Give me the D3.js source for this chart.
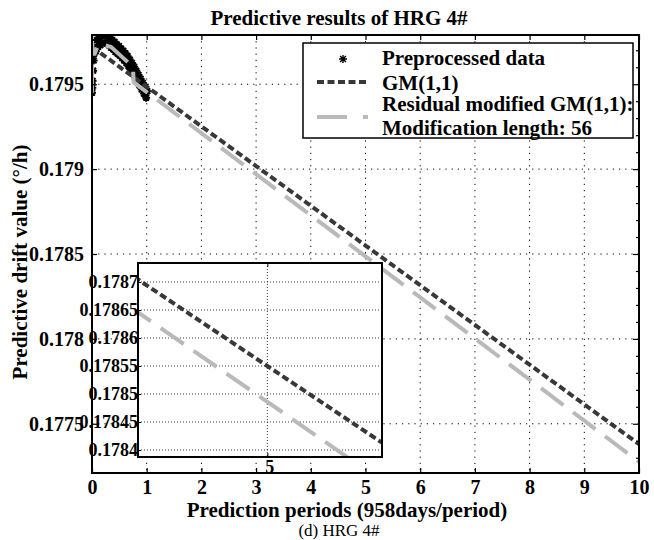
<!DOCTYPE html>
<html><head><meta charset="utf-8">
<script src="https://cdn.jsdelivr.net/npm/d3@7"></script>
<style>
body{margin:0;background:#fff}
svg{display:block}
text{font-family:"Liberation Serif","Times New Roman",serif;fill:#000}
</style>
</head><body>
<svg id="c" width="654" height="540"></svg>
<script>
// ---------- data ----------
const titleText = "Predictive results of HRG 4#";
const xLabelText = "Prediction periods (958days/period)";
const yLabelText = "Predictive drift value (\u00B0/h)";
const captionText = "(d) HRG 4#";
const legendLabels = ["Preprocessed data", "GM(1,1)", "Residual modified GM(1,1):", "Modification length: 56"];

const xTicks = [0,1,2,3,4,5,6,7,8,9,10];
const xTickLabels = ["0","1","2","3","4","5","6","7","8","9","10"];
const yTicks = [0.1775,0.178,0.1785,0.179,0.1795];
const yTickLabels = ["0.1775","0.178","0.1785","0.179","0.1795"];
const yMinorTicks = [0.1773,0.1774,0.1776,0.1777,0.1778,0.1779,0.1781,0.1782,0.1783,0.1784,0.1786,0.1787,0.1788,0.1789,0.1791,0.1792,0.1793,0.1794,0.1796,0.1797];

const insetXTicks = [5];
const insetXTickLabels = ["5"];
const insetYTicks = [0.1784,0.17845,0.1785,0.17855,0.1786,0.17865,0.1787];
const insetYTickLabels = ["0.1784","0.17845","0.1785","0.17855","0.1786","0.17865","0.1787"];

// preprocessed data (periods, value)
const preX = [0,0.005,0.01,0.02,0.03,0.04,0.05,0.07,0.09,0.11,0.13,0.15,0.17,0.19,0.21,0.23,0.25,0.27,0.29,0.31,0.33,0.35,0.37,0.39,0.41,0.43,0.45,0.47,0.49,0.51,0.53,0.55,0.57,0.59,0.61,0.63,0.65,0.67,0.69,0.71,0.73,0.75,0.77,0.79,0.81,0.83,0.85,0.87,0.89,0.91,0.93,0.95,0.97,0.99,1.01];
const preY = [0.17945,0.17948,0.17952,0.17958,0.17964,0.17968,0.179715,0.179695,0.17976,0.17972,0.179775,0.17973,0.179785,0.17974,0.179788,0.179745,0.179788,0.179743,0.179785,0.17973,0.179775,0.179715,0.17976,0.179705,0.17975,0.17969,0.179735,0.17968,0.179725,0.17967,0.17971,0.179655,0.179697,0.17964,0.179682,0.179625,0.179665,0.179605,0.179645,0.179585,0.179625,0.179565,0.179603,0.179541,0.179579,0.179517,0.179555,0.179493,0.179531,0.179469,0.179507,0.179445,0.179483,0.179421,0.179459];

// GM(1,1) prediction
const gmX = [0,1,2,3,4,5,6,7,8,9,10];
const gmY = [0.17972,0.179486,0.179252,0.179018,0.178784,0.17855,0.178316,0.178082,0.177848,0.177614,0.17738];

// residual modified GM(1,1)
const resX = [0,0.005,0.01,0.05,0.12,0.35,0.75,0.76,1,2,3,4,5,6,7,8,9,10];
const resY = [0.17945,0.17974,0.17968,0.17968,0.17974,0.179719,0.179602,0.179512,0.179454,0.179212,0.17897,0.178728,0.178486,0.178244,0.178002,0.17776,0.177518,0.177276];

// ---------- layout ----------
const svg = d3.select("#c");
const P = {l:92, r:639, t:35, b:473};
const I = {l:138, r:382, t:263, b:457};
const GM_COLOR = "#383838", RES_COLOR = "#b9b9b9";
const FONT = '"Liberation Serif","Times New Roman",serif';

const x = d3.scaleLinear().domain([0,10]).range([P.l,P.r]);
const y = d3.scaleLinear().domain([0.17721,0.17979]).range([P.b,P.t]);

svg.append("rect").attr("width",654).attr("height",540).attr("fill","#fff");

// grid (main)
const grid = svg.append("g");
grid.selectAll("line.vx").data(xTicks.filter(d=>d>0&&d<10)).join("line")
  .attr("x1",d=>x(d)).attr("x2",d=>x(d)).attr("y1",P.t).attr("y2",P.b)
  .attr("stroke","#000").attr("stroke-width",1).attr("stroke-dasharray","1.2,5");
grid.selectAll("line.hy").data(yTicks).join("line")
  .attr("x1",P.l).attr("x2",P.r).attr("y1",d=>y(d)).attr("y2",d=>y(d))
  .attr("stroke","#000").attr("stroke-width",1).attr("stroke-dasharray","1.2,5");

// clip for main plot
svg.append("clipPath").attr("id","mainclip").append("rect")
  .attr("x",P.l).attr("y",P.t).attr("width",P.r-P.l).attr("height",P.b-P.t);
const plot = svg.append("g").attr("clip-path","url(#mainclip)");

const pre = preX.map((d,i)=>[d,preY[i]]);
const star = "M-4,0L4,0M0,-4L0,4M-2.9,-2.9L2.9,2.9M-2.9,2.9L2.9,-2.9";
plot.selectAll("path.pt").data(pre).join("path")
  .attr("d",star).attr("transform",d=>`translate(${x(d[0])},${y(d[1])})`)
  .attr("stroke","#000").attr("stroke-width",2).attr("fill","none");

const lineMain = d3.line().x(d=>x(d[0])).y(d=>y(d[1]));
const gm = gmX.map((d,i)=>[d,gmY[i]]);
const res = resX.map((d,i)=>[d,resY[i]]);
plot.append("path").attr("d",lineMain(gm)).attr("fill","none")
  .attr("stroke",GM_COLOR).attr("stroke-width",4).attr("stroke-dasharray","7,3.5");
plot.append("path").attr("d",lineMain(res)).attr("fill","none")
  .attr("stroke",RES_COLOR).attr("stroke-width",4).attr("stroke-dasharray","28,12");

// main axes
const axB = svg.append("g").attr("transform",`translate(0,${P.b})`)
  .call(d3.axisBottom(x).tickValues(xTicks).tickFormat((d,i)=>xTickLabels[i]).tickSizeInner(-5).tickSizeOuter(0).tickPadding(7));
const axT = svg.append("g").attr("transform",`translate(0,${P.t})`)
  .call(d3.axisTop(x).tickValues(xTicks).tickFormat("").tickSizeInner(-5).tickSizeOuter(0));
const axL = svg.append("g").attr("transform",`translate(${P.l},0)`)
  .call(d3.axisLeft(y).tickValues(yTicks).tickFormat((d,i)=>yTickLabels[i]).tickSizeInner(-5).tickSizeOuter(0).tickPadding(8));
const axR = svg.append("g").attr("transform",`translate(${P.r},0)`)
  .call(d3.axisRight(y).tickValues(yTicks).tickFormat("").tickSizeInner(-6).tickSizeOuter(0));
const axRm = svg.append("g").attr("transform",`translate(${P.r},0)`)
  .call(d3.axisRight(y).tickValues(yMinorTicks).tickFormat("").tickSizeInner(-3).tickSizeOuter(0));
[axB,axT,axL,axR,axRm].forEach(g=>{
  g.select(".domain").remove();
  g.selectAll(".tick line").attr("stroke","#000").attr("stroke-width",1.2);
  g.selectAll("text").attr("font-family",FONT)
    .attr("font-weight","bold").attr("font-size",20).attr("fill","#000");
});
axB.selectAll("text").attr("dy","0.71em");
svg.append("rect").attr("x",P.l).attr("y",P.t).attr("width",P.r-P.l).attr("height",P.b-P.t)
  .attr("fill","none").attr("stroke","#000").attr("stroke-width",2);

// ---------- inset ----------
const xi = d3.scaleLinear().domain([4.34,5.585]).range([I.l,I.r]);
const yi = d3.scaleLinear().domain([0.1783875,0.1787339]).range([I.b,I.t]);
svg.append("rect").attr("x",I.l).attr("y",I.t).attr("width",I.r-I.l).attr("height",I.b-I.t).attr("fill","#fff");
svg.append("clipPath").attr("id","insclip").append("rect")
  .attr("x",I.l).attr("y",I.t).attr("width",I.r-I.l).attr("height",I.b-I.t);
const ins = svg.append("g");
ins.selectAll("line.ih").data(insetYTicks).join("line")
  .attr("x1",I.l).attr("x2",I.r).attr("y1",d=>yi(d)).attr("y2",d=>yi(d))
  .attr("stroke","#000").attr("stroke-width",1).attr("stroke-dasharray","1,2").attr("opacity",0.75);
ins.selectAll("line.iv").data(insetXTicks).join("line")
  .attr("x1",d=>xi(d)).attr("x2",d=>xi(d)).attr("y1",I.t).attr("y2",I.b)
  .attr("stroke","#000").attr("stroke-width",1).attr("stroke-dasharray","1,2").attr("opacity",0.75);
const insPlot = ins.append("g").attr("clip-path","url(#insclip)");
const lineIns = d3.line().x(d=>xi(d[0])).y(d=>yi(d[1]));
insPlot.append("path").attr("d",lineIns(gm)).attr("fill","none")
  .attr("stroke",GM_COLOR).attr("stroke-width",4).attr("stroke-dasharray","7,3.5");
insPlot.append("path").attr("d",lineIns(res)).attr("fill","none")
  .attr("stroke",RES_COLOR).attr("stroke-width",4).attr("stroke-dasharray","28,12");

const iaxL = ins.append("g").attr("transform",`translate(${I.l},0)`)
  .call(d3.axisLeft(yi).tickValues(insetYTicks).tickFormat((d,i)=>insetYTickLabels[i]).tickSizeInner(-3).tickSizeOuter(0).tickPadding(0));
const iaxB = ins.append("g").attr("transform",`translate(0,${I.b})`)
  .call(d3.axisBottom(xi).tickValues(insetXTicks).tickFormat((d,i)=>insetXTickLabels[i]).tickSizeInner(-4).tickSizeOuter(0).tickPadding(3));
const iaxT = ins.append("g").attr("transform",`translate(0,${I.t})`)
  .call(d3.axisTop(xi).tickValues(insetXTicks).tickFormat("").tickSizeInner(-4).tickSizeOuter(0));
[iaxL,iaxB,iaxT].forEach(g=>{
  g.select(".domain").remove();
  g.selectAll(".tick line").attr("stroke","#000").attr("stroke-width",1);
  g.selectAll("text").attr("font-family",FONT)
    .attr("font-weight","bold").attr("font-size",18).attr("fill","#000");
});
iaxB.selectAll("text").attr("dy","0.71em").attr("dx",2);
ins.append("rect").attr("x",I.l).attr("y",I.t).attr("width",I.r-I.l).attr("height",I.b-I.t)
  .attr("fill","none").attr("stroke","#000").attr("stroke-width",2);

// ---------- legend ----------
const L = {x:303, y:43, w:330, h:95};
const leg = svg.append("g");
leg.append("rect").attr("x",L.x).attr("y",L.y).attr("width",L.w).attr("height",L.h)
  .attr("fill","#fff").attr("stroke","#000").attr("stroke-width",1.5);
leg.append("path").attr("d",star).attr("transform","translate(343,59)")
  .attr("stroke","#000").attr("stroke-width",1.4).attr("fill","none");
leg.append("line").attr("x1",317).attr("x2",368).attr("y1",82).attr("y2",82)
  .attr("stroke",GM_COLOR).attr("stroke-width",4).attr("stroke-dasharray","7,3.5");
leg.append("line").attr("x1",317).attr("x2",368).attr("y1",117).attr("y2",117)
  .attr("stroke",RES_COLOR).attr("stroke-width",4).attr("stroke-dasharray","30,16");
const legY = [65,90,111,135];
leg.selectAll("text").data(legendLabels).join("text")
  .attr("x",382).attr("y",(d,i)=>legY[i]).text(d=>d)
  .attr("font-family",FONT).attr("font-weight","bold").attr("font-size",21);

// ---------- titles ----------
svg.append("text").attr("x",339).attr("y",25).attr("text-anchor","middle")
  .attr("font-family",FONT).attr("font-weight","bold").attr("font-size",21).text(titleText);
svg.append("text").attr("x",347).attr("y",517).attr("text-anchor","middle")
  .attr("font-family",FONT).attr("font-weight","bold").attr("font-size",21).text(xLabelText);
svg.append("text").attr("transform","translate(27,262) rotate(-90)").attr("text-anchor","middle")
  .attr("font-family",FONT).attr("font-weight","bold").attr("font-size",21).text(yLabelText);
svg.append("text").attr("x",339).attr("y",536).attr("text-anchor","middle")
  .attr("font-family",FONT).attr("font-weight","normal").attr("font-size",17).text(captionText);
</script>
</body></html>
